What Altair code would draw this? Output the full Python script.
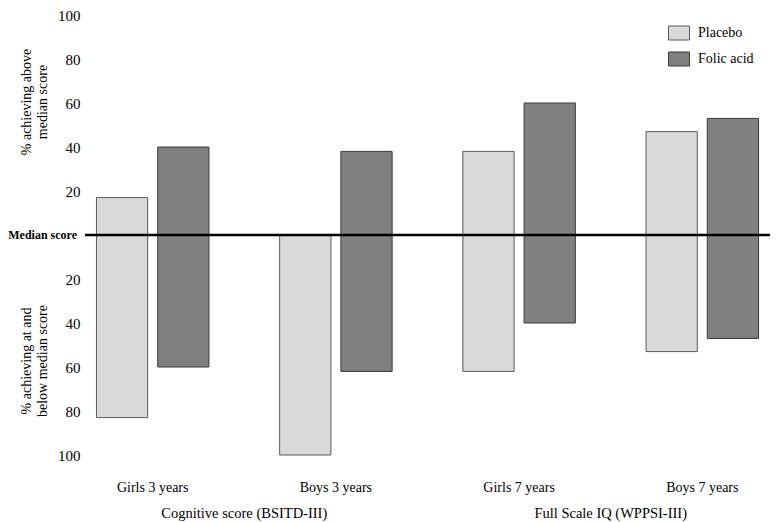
import altair as alt
import pandas as pd

groups = ["Girls 3 years", "Boys 3 years", "Girls 7 years", "Boys 7 years"]
series = ["Placebo", "Folic acid"]
placebo_above = [17, 0, 38, 47]
placebo_below = [83, 100, 62, 53]
folic_above = [40, 38, 60, 53]
folic_below = [60, 62, 40, 47]
domains = ["Cognitive score (BSITD-III)", "Full Scale IQ (WPPSI-III)"]
domain_first_group = ["Girls 3 years", "Girls 7 years"]
y_ticks = [-100, -80, -60, -40, -20, 20, 40, 60, 80, 100]
y_titles = ["% achieving above\nmedian score", "% achieving at and\nbelow median score"]

rows = []
for i, g in enumerate(groups):
    rows.append(dict(group=g, series="Placebo", above=placebo_above[i], below=-placebo_below[i]))
    rows.append(dict(group=g, series="Folic acid", above=folic_above[i], below=-folic_below[i]))
df = pd.DataFrame(rows)

FONT = "Liberation Serif"
W, H = 685, 440

x_scale = alt.Scale(domain=groups, paddingInner=0.386, paddingOuter=0.0625)
y_scale = alt.Scale(domain=[-100, 100], nice=False)
fill_scale = alt.Scale(domain=series, range=["#d9d9d9", "#808080"])
stroke_scale = alt.Scale(domain=series, range=["#5a5a5a", "#3a3a3a"])

def legend():
    return alt.Legend(
        title=None, orient="none", legendX=583, legendY=7,
        symbolType="M-1,-0.667H1V0.667H-1Z", symbolSize=441, symbolStrokeWidth=1,
        symbolOpacity=1,
        labelFont=FONT, labelFontSize=14, labelColor="black", labelOffset=8,
        rowPadding=5, direction="vertical",
    )

bars = alt.Chart(df).mark_bar(strokeWidth=1, opacity=1).encode(
    x=alt.X("group:N", scale=x_scale, sort=groups,
            axis=alt.Axis(title=None, labelAngle=0, ticks=False, domain=False,
                          labelPadding=25, labelFont=FONT, labelFontSize=14,
                          labelColor="black")),
    xOffset=alt.XOffset("series:N", sort=series,
                        scale=alt.Scale(domain=series, paddingInner=0.163, paddingOuter=0)),
    y=alt.Y("below:Q", scale=y_scale,
            axis=alt.Axis(title=None, values=y_ticks, labelExpr="abs(datum.value)",
                          ticks=False, domain=False, grid=False, labelPadding=5,
                          labelFont=FONT, labelFontSize=15, labelColor="black")),
    y2="above:Q",
    fill=alt.Fill("series:N", scale=fill_scale, legend=legend()),
    stroke=alt.Stroke("series:N", scale=stroke_scale, legend=legend()),
)

median_rule = alt.Chart(pd.DataFrame({"y": [0]})).mark_rule(
    color="black", strokeWidth=2.5
).encode(y=alt.Y("y:Q", scale=y_scale), x=alt.value(0), x2=alt.value(W))

median_text = alt.Chart(pd.DataFrame({"y": [0], "t": ["Median score"]})).mark_text(
    align="right", baseline="middle", font=FONT, fontSize=12, fontWeight="bold",
    color="black", dx=-8
).encode(y=alt.Y("y:Q", scale=y_scale), x=alt.value(0), text="t:N")

title_df = pd.DataFrame({"t": y_titles, "ypix": [87, 346]})
y_title_text = alt.Chart(title_df).mark_text(
    angle=270, align="center", baseline="middle", font=FONT, fontSize=14,
    color="black", lineBreak="\n", lineHeight=16
).encode(x=alt.value(-58), y=alt.Y("ypix:Q", scale=None), text="t:N")

cat_df = pd.DataFrame({"group": domain_first_group, "t": domains})
cat_text = alt.Chart(cat_df).mark_text(
    align="center", baseline="middle", font=FONT, fontSize=14.5, color="black", dx=91.6
).encode(x=alt.X("group:N", scale=x_scale, sort=groups), y=alt.value(499), text="t:N")

chart = alt.layer(bars, median_rule, median_text, y_title_text, cat_text).properties(
    width=W, height=H,
    autosize=alt.AutoSizeParams(type="none"),
    padding={"left": 77, "top": 7, "right": 0, "bottom": 67},
    background="white",
).configure_view(stroke=None)

chart.save("out.html", embed_options={"renderer": "svg", "actions": False})
